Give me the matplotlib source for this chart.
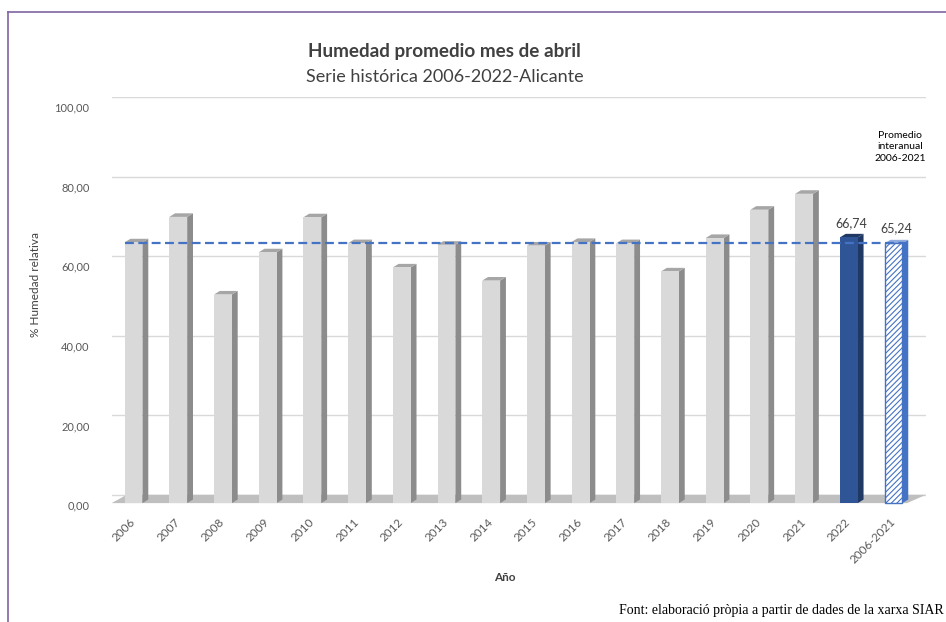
import matplotlib.pyplot as plt
import matplotlib.transforms as mtransforms
from matplotlib.lines import Line2D
from matplotlib.patches import Polygon

plt.rcParams["font.family"] = ["Lato", "DejaVu Sans"]
plt.rcParams["hatch.color"] = "#4472c4"
plt.rcParams["hatch.linewidth"] = 0.8

labels = ["2006", "2007", "2008", "2009", "2010", "2011", "2012", "2013", "2014",
          "2015", "2016", "2017", "2018", "2019", "2020", "2021", "2022", "2006-2021"]
values = [65.5, 71.9, 52.4, 63.0, 71.8, 65.3, 59.2, 64.9, 55.9,
          64.7, 65.6, 65.3, 58.2, 66.6, 73.7, 77.7, 66.74, 65.24]
mean_2006_2021 = 65.24
yticks = [0, 20, 40, 60, 80, 100]

fig = plt.figure(figsize=(9.46, 6.22), dpi=100)
ax = fig.add_axes([0.118, 0.188, 0.861, 0.656])

# front plane of the pseudo-3D chart sits a few pixels below the back gridlines
front_tr = ax.transData + mtransforms.ScaledTranslation(0, -8 / 100, fig.dpi_scale_trans)

w = 0.40      # front face width
d = 0.13      # depth offset in x
dy = 0.9      # depth offset in y

# floor
ax.add_patch(Polygon([(-0.49, 0), (-0.15, 2.1), (17.73, 2.1), (17.3, 0)], closed=True,
                     facecolor="#bfbfbf", edgecolor="none", zorder=1, transform=front_tr))

for i, v in enumerate(values):
    if i == len(values) - 1:
        front, side, top, hatch, edge = "white", "#4472c4", "#8faadc", "//////", "#4472c4"
    elif i == len(values) - 2:
        front, side, top, hatch, edge = "#2f5597", "#1f3864", "#203864", None, "none"
    else:
        front, side, top, hatch, edge = "#d9d9d9", "#8c8c8c", "#a6a6a6", None, "none"
    x0, x1 = i - w / 2, i + w / 2
    ax.add_patch(Polygon([(x1, 0), (x1 + d, dy), (x1 + d, v + dy), (x1, v)], closed=True,
                         facecolor=side, edgecolor="none", zorder=2, transform=front_tr))
    ax.add_patch(Polygon([(x0, v), (x0 + d, v + dy), (x1 + d, v + dy), (x1, v)], closed=True,
                         facecolor=top, edgecolor="none", zorder=2, transform=front_tr))
    ax.bar(i, v, width=w, color=front, hatch=hatch, edgecolor=edge,
           linewidth=1.0 if hatch else 0, zorder=3, transform=front_tr)

ax.plot([-0.2, 17.3], [mean_2006_2021, mean_2006_2021], color="#4472c4",
        linestyle=(0, (4, 2)), linewidth=1.6, zorder=4, transform=front_tr)

ax.text(16 + d / 2, values[16] + 2.2, "66,74", ha="center", va="bottom",
        fontsize=9, color="#404040", zorder=5, transform=front_tr)
ax.text(17 + d / 2, values[17] + 2.2, "65,24", ha="center", va="bottom",
        fontsize=9, color="#404040", zorder=5, transform=front_tr)
ax.text(17.15, 83.5, "Promedio\ninteranual\n2006-2021", ha="center", va="bottom",
        fontsize=7.5, color="black", linespacing=1.35)

ax.set_xlim(-0.49, 17.73)
ax.set_ylim(-2.5, 100)
ax.set_yticks(yticks)
ax.set_yticklabels([f"{t:.2f}".replace(".", ",") for t in yticks])
ax.yaxis.grid(True, color="#d9d9d9", linewidth=1.0, zorder=0)
ax.set_axisbelow(True)
ax.set_xticks(range(len(labels)))
ax.set_xticklabels(labels, rotation=45, ha="right", rotation_mode="anchor")
ax.tick_params(axis="y", length=0, pad=16, labelsize=8, labelcolor="#595959")
ax.tick_params(axis="x", length=0, pad=8, labelsize=8.5, labelcolor="#595959")
for lab in ax.get_yticklabels():
    lab.set_transform(lab.get_transform() + mtransforms.ScaledTranslation(0, -10 / 100, fig.dpi_scale_trans))
for lab in ax.get_xticklabels():
    lab.set_transform(lab.get_transform() + mtransforms.ScaledTranslation(-0.04, 0, fig.dpi_scale_trans))
for s in ax.spines.values():
    s.set_visible(False)

fig.text(0.47, 0.918, "Humedad promedio mes de abril", ha="center", va="center",
         fontsize=13.6, fontweight="bold", color="#404040")
fig.text(0.47, 0.877, "Serie histórica 2006-2022-Alicante", ha="center", va="center",
         fontsize=13, color="#404040")
fig.text(0.037, 0.542, "% Humedad relativa", rotation=90, ha="center", va="center",
         fontsize=8.5, color="#404040")
fig.text(0.534, 0.071, "Año", ha="center", va="center", fontsize=8.5,
         fontweight="bold", color="#404040")
fig.text(0.998, 0.019, "Font: elaboració pròpia a partir de dades de la xarxa SIAR",
         ha="right", va="center", fontsize=10, family="Liberation Serif", color="black")

fig.add_artist(Line2D([8 / 946, 1], [1 - 12 / 622, 1 - 12 / 622], color="#8064a2", linewidth=1.2))
fig.add_artist(Line2D([8 / 946, 8 / 946], [0, 1 - 12 / 622], color="#8064a2", linewidth=1.2))

fig.savefig("out.png", dpi=100)
